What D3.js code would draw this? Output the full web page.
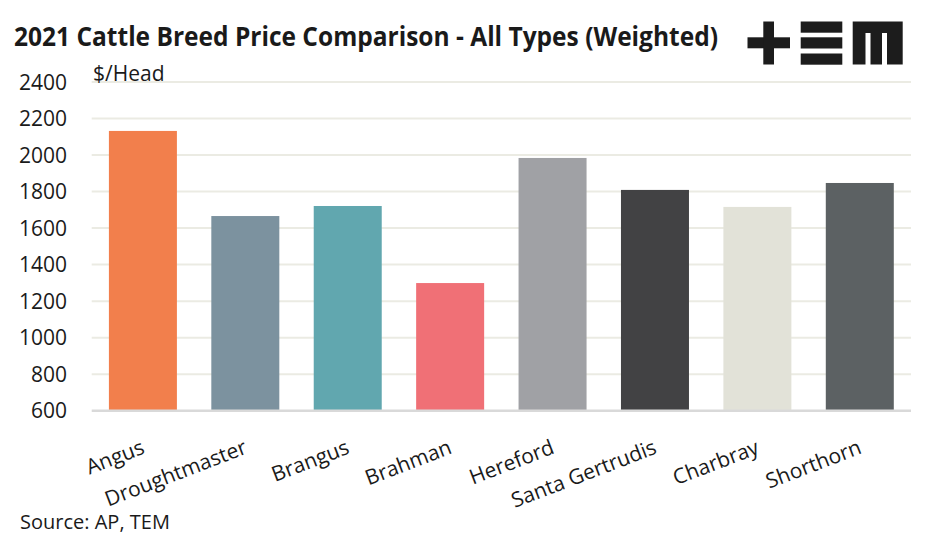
<!DOCTYPE html>
<html>
<head>
<meta charset="utf-8">
<script src="https://cdn.jsdelivr.net/npm/d3@7"></script>
<style>
  body { margin: 0; background: #fff; }
  svg { display: block; font-family: "Open Sans", sans-serif; }
</style>
</head>
<body>
<svg id="chart" width="947" height="539"></svg>
<script>
  /*
    Data
  */
  const breeds = ['Angus', 'Droughtmaster', 'Brangus', 'Brahman', 'Hereford', 'Santa Gertrudis', 'Charbray', 'Shorthorn'];
  const prices = [2132, 1666, 1721, 1299, 1984, 1809, 1716, 1847];
  const barColors = ['#F27F4C', '#7C929F', '#61A7AF', '#F07076', '#A0A1A5', '#424244', '#E2E2D8', '#5C6163'];
  const yTicks = [600, 800, 1000, 1200, 1400, 1600, 1800, 2000, 2200, 2400];

  const svg = d3.select('#chart');
  const plot = { left: 91.7, right: 911, top: 82, bottom: 410.7 };

  let x = d3.scaleBand()
    .domain(breeds)
    .range([plot.left, plot.right])
    .paddingInner(0.336)
    .paddingOuter(0.168);

  let y = d3.scaleLinear()
    .domain([600, 2400])
    .range([plot.bottom, plot.top]);

  // gridlines
  svg.append('g')
    .selectAll('line')
    .data(yTicks.slice(1))
    .enter()
    .append('line')
    .attr('x1', plot.left)
    .attr('x2', plot.right)
    .attr('y1', d => y(d))
    .attr('y2', d => y(d))
    .attr('stroke', '#EBEBE3')
    .attr('stroke-width', 2);

  // y tick labels
  svg.append('g')
    .selectAll('text')
    .data(yTicks)
    .enter()
    .append('text')
    .attr('x', 67)
    .attr('y', d => y(d))
    .attr('dy', '0.36em')
    .attr('text-anchor', 'end')
    .attr('fill', '#1a1a1a')
    .style('font-size', '21px')
    .text(d => d);

  // bars
  svg.append('g')
    .selectAll('rect')
    .data(breeds)
    .enter()
    .append('rect')
    .attr('x', d => x(d))
    .attr('width', x.bandwidth())
    .attr('y', (d, i) => y(prices[i]))
    .attr('height', (d, i) => y(600) - y(prices[i]))
    .attr('fill', (d, i) => barColors[i]);

  // baseline
  svg.append('line')
    .attr('x1', plot.left)
    .attr('x2', plot.right)
    .attr('y1', y(600))
    .attr('y2', y(600))
    .attr('stroke', '#D9D9D9')
    .attr('stroke-width', 2.5);

  // category labels, rotated and end-anchored at band centre
  svg.append('g')
    .selectAll('text')
    .data(breeds)
    .enter()
    .append('text')
    .attr('transform', d => 'translate(' + (x(d) + x.bandwidth() / 2 + 3) + ',453) rotate(-21)')
    .attr('text-anchor', 'end')
    .attr('fill', '#1a1a1a')
    .style('font-size', '21px')
    .text(d => d);

  // unit label
  svg.append('text')
    .attr('x', 93)
    .attr('y', 80.5)
    .attr('fill', '#1a1a1a')
    .style('font-size', '21px')
    .text('$/Head');

  // title
  svg.append('text')
    .attr('x', 14)
    .attr('y', 46)
    .attr('fill', '#1a1a1a')
    .attr('textLength', 704)
    .attr('lengthAdjust', 'spacingAndGlyphs')
    .style('font-size', '26.5px')
    .style('font-weight', 'bold')
    .text('2021 Cattle Breed Price Comparison - All Types (Weighted)');

  // source
  svg.append('text')
    .attr('x', 20)
    .attr('y', 529)
    .attr('fill', '#1a1a1a')
    .style('font-size', '20px')
    .text('Source: AP, TEM');

  // logo
  const logo = svg.append('g').attr('fill', '#1c1c1c');
  logo.append('rect').attr('x', 747.5).attr('y', 37.3).attr('width', 42.5).attr('height', 11);
  logo.append('rect').attr('x', 763.3).attr('y', 21.5).attr('width', 10.7).attr('height', 43);
  [21.5, 37.3, 53.5].forEach(function (ty) {
    logo.append('rect').attr('x', 800.7).attr('y', ty).attr('width', 41.6).attr('height', 11.2);
  });
  logo.append('rect').attr('x', 852.7).attr('y', 21.5).attr('width', 50).attr('height', 43);
  [865.5, 882].forEach(function (gx) {
    logo.append('rect').attr('x', gx).attr('y', 33).attr('width', 5).attr('height', 32).attr('fill', '#fff');
  });
</script>
</body>
</html>
